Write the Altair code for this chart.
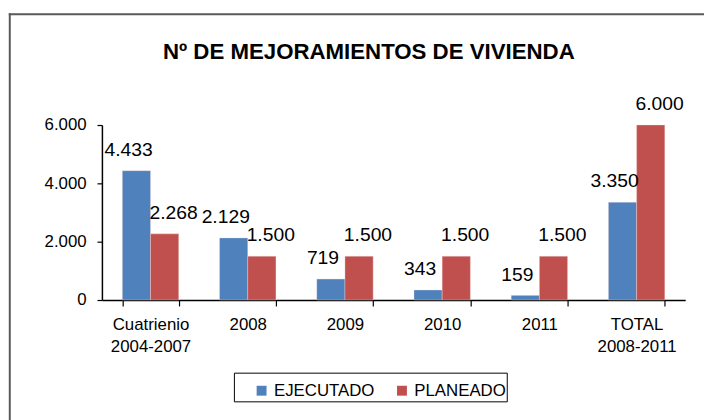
import altair as alt
import pandas as pd

# ---- data ----
categories = ["Cuatrienio\n2004-2007", "2008", "2009", "2010", "2011", "TOTAL\n2008-2011"]
series = ["EJECUTADO", "PLANEADO"]
ejecutado = [4433, 2129, 719, 343, 159, 3350]
planeado = [2268, 1500, 1500, 1500, 1500, 6000]
y_ticks = [0, 2000, 4000, 6000]
title_text = "Nº DE MEJORAMIENTOS DE VIVIENDA"
colors = ["#4F81BD", "#C0504D"]

rows = []
for c, e, p in zip(categories, ejecutado, planeado):
    rows.append({"cat": c, "serie": series[0], "valor": e})
    rows.append({"cat": c, "serie": series[1], "valor": p})
df = pd.DataFrame(rows)

FONT = "Liberation Sans"
fmt_es = "replace(format(datum.valor, ','), ',', '.')"

x_enc = alt.X(
    "cat:N", sort=categories, title=None,
    scale=alt.Scale(paddingInner=0.42, paddingOuter=0.21),
    axis=alt.Axis(labelAngle=0, labelExpr="split(datum.label, '\\n')",
                  tickBand="extent", tickSize=6, labelPadding=11,
                  labelFontSize=17, labelLineHeight=22, labelFont=FONT,
                  labelColor="black", domainColor="black", tickColor="black",
                  domainWidth=1.5, tickWidth=1.2, grid=False),
)
xoff_enc = alt.XOffset("serie:N", sort=series,
                       scale=alt.Scale(paddingInner=0, paddingOuter=0))
y_enc = alt.Y(
    "valor:Q", title=None,
    scale=alt.Scale(domain=[0, 6000], nice=False),
    axis=alt.Axis(values=y_ticks, labelExpr="replace(format(datum.value, ','), ',', '.')",
                  tickSize=5, labelPadding=11, labelFontSize=17, labelFont=FONT,
                  labelColor="black", domainColor="black", tickColor="black",
                  domainWidth=1.5, tickWidth=1.2, grid=False),
)

base = alt.Chart(df)

bars = base.mark_bar(stroke="#f4dede", strokeWidth=0.6, strokeOpacity=0.6).encode(
    x=x_enc, xOffset=xoff_enc, y=y_enc,
    color=alt.Color("serie:N", sort=series,
                    scale=alt.Scale(domain=series, range=colors),
                    legend=alt.Legend(title=None, orient="none", direction="horizontal",
                                      legendX=153, legendY=260, padding=0,
                                      symbolType="square", symbolSize=100,
                                      symbolStrokeWidth=0, symbolOpacity=1,
                                      labelFontSize=17, labelFont=FONT, labelColor="black",
                                      labelOffset=4, columnPadding=19)),
)

labels_e = base.transform_filter(alt.datum.serie == series[0]).transform_calculate(
    lbl=fmt_es).mark_text(fontSize=19.5, font=FONT, color="black", baseline="alphabetic",
                          dy=-15, dx=-8).encode(
    x=alt.X("cat:N", sort=categories), xOffset=xoff_enc, y=alt.Y("valor:Q"), text="lbl:N")

labels_p = base.transform_filter(alt.datum.serie == series[1]).transform_calculate(
    lbl=fmt_es).mark_text(fontSize=19.5, font=FONT, color="black", baseline="alphabetic",
                          dy=-15, dx=9).encode(
    x=alt.X("cat:N", sort=categories), xOffset=xoff_enc, y=alt.Y("valor:Q"), text="lbl:N")

one = pd.DataFrame({"t": [title_text]})
title = alt.Chart(one).mark_text(fontSize=22.5, font=FONT, fontWeight="bold", color="black",
                                 align="center", baseline="alphabetic").encode(
    text="t:N", x=alt.value(270), y=alt.value(-67))

frame_left = alt.Chart(one).mark_rule(color="#595959", strokeWidth=2).encode(
    x=alt.value(-93.2), y=alt.value(-113), y2=alt.value(300))
frame_top = alt.Chart(one).mark_rule(color="#595959", strokeWidth=2).encode(
    x=alt.value(-94.2), x2=alt.value(612), y=alt.value(-112))

legend_box = alt.Chart(one).mark_rect(fill="transparent", stroke="black", strokeWidth=1).encode(
    x=alt.value(134), x2=alt.value(410), y=alt.value(251), y2=alt.value(280))

chart = alt.layer(frame_left, frame_top, legend_box, bars, labels_e, labels_p, title).properties(
    width=590, height=177,
    padding={"left": 95, "top": 116, "right": 19, "bottom": 119},
    autosize=alt.AutoSizeParams(type="none"),
).configure(background="white").configure_view(stroke=None)

chart.save("out.html", embed_options={"renderer": "svg", "actions": False})
